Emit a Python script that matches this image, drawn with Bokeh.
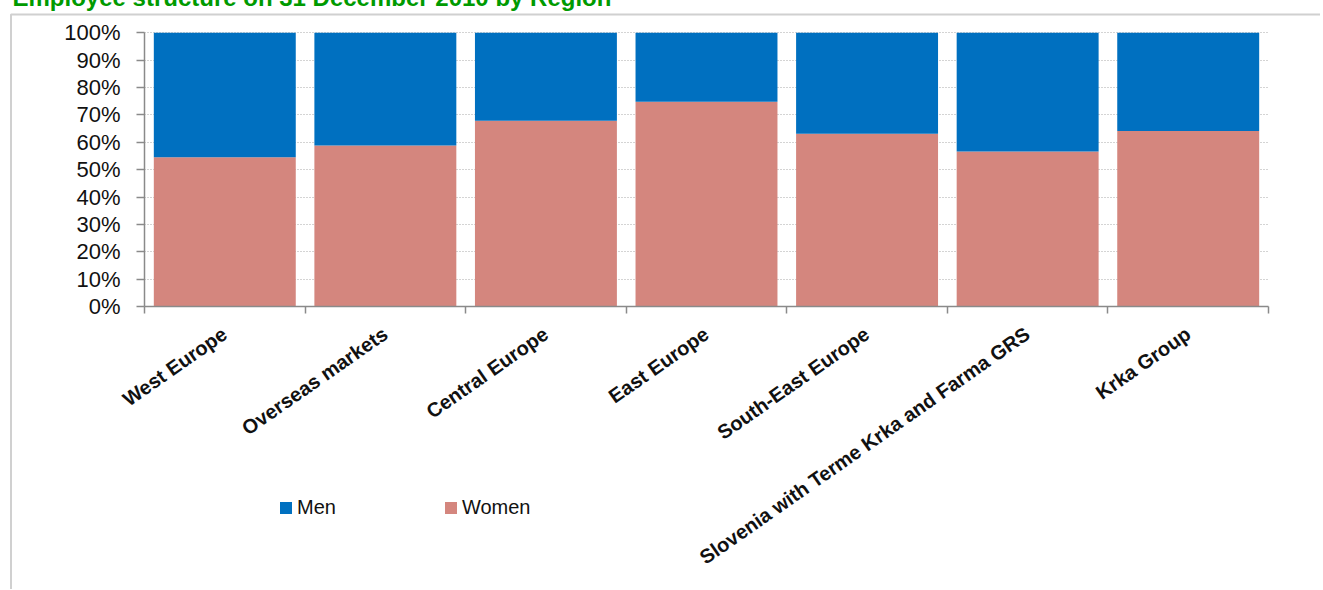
from bokeh.plotting import figure
from bokeh.models import (Range1d, FixedTicker, NumeralTickFormatter, Legend, LegendItem,
                          Label, PolyAnnotation, ColumnDataSource)
from bokeh.embed import file_html
from bokeh.resources import INLINE

# ---- data ----
title_text = "Employee structure on 31 December 2010 by Region"
regions = ["West Europe", "Overseas markets", "Central Europe", "East Europe",
           "South-East Europe", "Slovenia with Terme Krka and Farma GRS", "Krka Group"]
women = [54.5, 58.8, 67.9, 74.8, 63.1, 56.6, 64.1]
men = [45.5, 41.2, 32.1, 25.2, 36.9, 43.4, 35.9]
y_ticks = [0, 10, 20, 30, 40, 50, 60, 70, 80, 90, 100]

BLUE = "#0070C0"
PINK = "#D4867E"
FONT = "Liberation Sans"

# ---- layout constants (pixels) ----
W, H = 1320, 601           # canvas size
TOP_SHIFT = 12             # canvas is lifted by this many px
X0, X1 = 144, 1268         # screen x of the category axis ends
Y0, Y1 = 306, 32.3         # screen y of 0 % and 100 %

n = len(regions)
centers = [i + 0.5 for i in range(n)]
bounds = [float(i) for i in range(n + 1)]

ppx = (X1 - X0) / n
ppy = (Y0 - Y1)
x_start = -X0 / ppx
x_end = n + (W - X1) / ppx
y_end = (Y0 + TOP_SHIFT) / ppy
y_start = -(H - TOP_SHIFT - Y0) / ppy

src = ColumnDataSource(dict(x=centers, women=[w / 100 for w in women],
                            men=[m / 100 for m in men]))

p = figure(width=W, height=H, output_backend="svg", toolbar_location=None,
           x_range=Range1d(x_start, x_end), y_range=Range1d(y_start, y_end),
           min_border=0, margin=(-TOP_SHIFT, 0, 0, 0))
p.outline_line_color = None
p.background_fill_color = "white"
p.border_fill_color = "white"

rs = p.vbar_stack(["women", "men"], x="x", width=0.884, source=src,
                  color=[PINK, BLUE], line_color=None)

# y axis
yax = p.yaxis[0]
yax.fixed_location = 0
yax.bounds = (0, 1)
yax.ticker = FixedTicker(ticks=[t / 100 for t in y_ticks], minor_ticks=[])
yax.formatter = NumeralTickFormatter(format="0%")
yax.axis_line_color = "#8a8a8a"
yax.axis_line_width = 1.5
yax.major_tick_line_color = "#8a8a8a"
yax.major_tick_line_width = 1.5
yax.major_tick_out = 8
yax.major_tick_in = 0
yax.minor_tick_line_color = None
yax.major_label_text_font = FONT
yax.major_label_text_font_size = "22px"
yax.major_label_text_color = "#111111"
yax.major_label_standoff = 16

# x axis
xax = p.xaxis[0]
xax.fixed_location = 0
xax.bounds = (0, n)
xax.ticker = FixedTicker(ticks=centers, minor_ticks=bounds)
xax.major_label_overrides = {c: r for c, r in zip(centers, regions)}
xax.axis_line_color = "#8a8a8a"
xax.axis_line_width = 1.5
xax.major_tick_line_color = None
xax.major_tick_out = 0
xax.major_tick_in = 0
xax.minor_tick_line_color = "#8a8a8a"
xax.minor_tick_line_width = 1.5
xax.minor_tick_out = 7
xax.minor_tick_in = 0
xax.major_label_orientation = 0.61
xax.major_label_text_font = FONT
xax.major_label_text_font_style = "bold"
xax.major_label_text_font_size = "20px"
xax.major_label_text_color = "#111111"
xax.major_label_standoff = 18

# grid
p.xgrid.grid_line_color = None
p.ygrid.ticker = FixedTicker(ticks=[t / 100 for t in y_ticks])
p.ygrid.cross_bounds = (0, n)
p.ygrid.grid_line_color = "#a8a8a8"
p.ygrid.grid_line_dash = "1 2"
p.ygrid.grid_line_width = 1

# legend
legend = Legend(items=[LegendItem(label="Men", renderers=[rs[1]]),
                       LegendItem(label="Women", renderers=[rs[0]])],
                orientation="horizontal", location=(278, 70),
                glyph_width=15, glyph_height=15, label_standoff=4, spacing=107,
                padding=0, margin=0, border_line_color=None, background_fill_alpha=0,
                label_text_font=FONT, label_text_font_size="20px",
                label_text_color="#111111")
p.add_layout(legend, "center")

# outer border (top + left edges of the chart box)
p.add_layout(PolyAnnotation(xs=[10.5, 3000, 3000, 10.5],
                            ys=[H - (14 + TOP_SHIFT), H - (14 + TOP_SHIFT), -3000, -3000],
                            xs_units="screen", ys_units="screen",
                            fill_alpha=0, line_color="#d0d0d0", line_alpha=1.0,
                            line_width=2, level="overlay"))

# title (partially cut at top, as in the source)
p.add_layout(Label(x=12, y=H - (3 + TOP_SHIFT) + 6, x_units="screen", y_units="screen",
                   text=title_text, text_font=FONT, text_font_style="bold",
                   text_font_size="24px", text_color="#009A00",
                   text_baseline="alphabetic"))

open("out.html", "w").write(file_html(p, INLINE))
